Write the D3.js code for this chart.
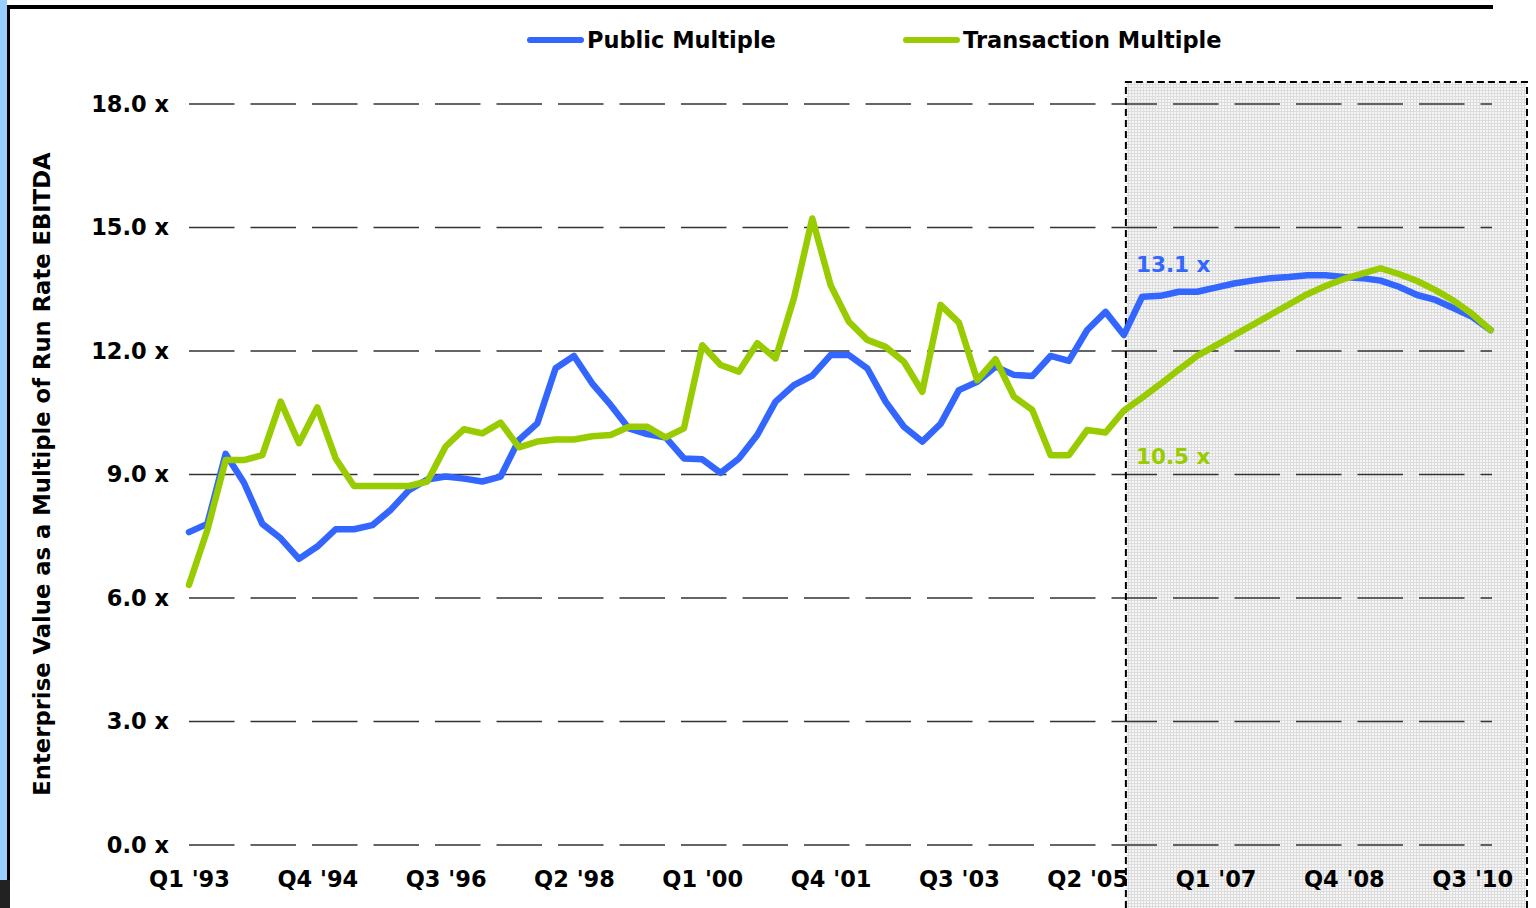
<!DOCTYPE html>
<html>
<head>
<meta charset="utf-8">
<script src="https://cdn.jsdelivr.net/npm/d3@7"></script>
<style>
    body {
        margin: 0;
        background: #fff;
    }

    svg text {
        font-family: Verdana, "DejaVu Sans", sans-serif;
        font-weight: bold;
        fill: #000;
    }

    .axis path {
        display: none;
    }

    .axis line {
        display: none;
    }

    .axis text {
        font-size: 22.5px;
    }
</style>
</head>
<body>
<script>
    // quarterly series, Q1 '93 .. Q4 '10
    var startYear = 1993;
    var quarterCount = 72;

    var publicMultiple = [
        7.6, 7.8, 9.5, 8.8, 7.8, 7.45, 6.95, 7.25, 7.67, 7.67, 7.77, 8.14,
        8.62, 8.88, 8.95, 8.9, 8.83, 8.95, 9.84, 10.24, 11.58, 11.88, 11.21, 10.69,
        10.12, 9.98, 9.9, 9.39, 9.37, 9.04, 9.39, 9.96, 10.77, 11.17, 11.4, 11.9,
        11.9, 11.58, 10.77, 10.16, 9.8, 10.23, 11.05, 11.25, 11.62, 11.42, 11.39, 11.88,
        11.76, 12.51, 12.95, 12.39, 13.32, 13.34, 13.44, 13.44, 13.54, 13.64, 13.71, 13.77,
        13.8, 13.84, 13.84, 13.8, 13.77, 13.71, 13.56, 13.36, 13.24, 13.04, 12.83, 12.51
    ];

    var transactionMultiple = [
        6.32, 7.65, 9.35, 9.35, 9.47, 10.77, 9.76, 10.63, 9.39, 8.72, 8.72, 8.72,
        8.72, 8.83, 9.68, 10.1, 10.0, 10.26, 9.66, 9.8, 9.85, 9.85, 9.93, 9.96,
        10.16, 10.16, 9.9, 10.12, 12.14, 11.66, 11.5, 12.19, 11.82, 13.28, 15.22, 13.6,
        12.71, 12.27, 12.1, 11.74, 11.01, 13.12, 12.69, 11.29, 11.8, 10.89, 10.57, 9.47,
        9.47, 10.08, 10.02, 10.55, 10.87, 11.2, 11.55, 11.88, 12.13, 12.38, 12.63, 12.88,
        13.13, 13.38, 13.58, 13.75, 13.88, 14.01, 13.87, 13.7, 13.48, 13.22, 12.9, 12.51
    ];

    var xTickLabels = ["Q1 '93", "Q4 '94", "Q3 '96", "Q2 '98", "Q1 '00", "Q4 '01",
        "Q3 '03", "Q2 '05", "Q1 '07", "Q4 '08", "Q3 '10"];
    var yTicks = [0, 3, 6, 9, 12, 15, 18];

    var seriesNames = ["Public Multiple", "Transaction Multiple"];
    var colors = ["#3366FF", "#99CC00"];

    var shadeStart = "Q4 '05";
    var endLabels = ["13.1 x", "10.5 x"];

    var quarters = [];
    for (var i = 0; i < quarterCount; i++) {
        var yr = startYear + Math.floor(i / 4);
        quarters.push("Q" + (i % 4 + 1) + " '" + String(yr).slice(2));
    }

    var W = 1536, H = 908;

    var svg = d3.select("body").append("svg")
        .attr("width", W)
        .attr("height", H);

    var x = d3.scalePoint()
        .domain(quarters)
        .range([189, 1490.5]);

    var y = d3.scaleLinear()
        .domain([0, 18])
        .range([845, 104]);

    // page frame bits from the slide
    svg.append("rect").attr("x", 0).attr("y", 0).attr("width", 7).attr("height", 880).attr("fill", "#99CCFF");
    svg.append("rect").attr("x", 7).attr("y", 5).attr("width", 3).attr("height", 875).attr("fill", "#000");
    svg.append("rect").attr("x", 7).attr("y", 5).attr("width", 1486).attr("height", 4).attr("fill", "#000");
    svg.append("rect").attr("x", 0).attr("y", 880).attr("width", 10).attr("height", 28).attr("fill", "#222");

    // projection shading
    var defs = svg.append("defs");
    var pat = defs.append("pattern")
        .attr("id", "grain")
        .attr("width", 3)
        .attr("height", 3)
        .attr("patternUnits", "userSpaceOnUse");
    pat.append("rect").attr("width", 3).attr("height", 3).attr("fill", "#f6f6f6");
    pat.append("rect").attr("width", 3).attr("height", 1).attr("fill", "#dcdcdc");
    pat.append("rect").attr("width", 1).attr("height", 3).attr("fill", "#dcdcdc");

    var shadeX = x(shadeStart) + 2;
    svg.append("rect")
        .attr("x", shadeX)
        .attr("y", 82)
        .attr("width", 1527 - shadeX)
        .attr("height", H - 82 + 5)
        .attr("fill", "url(#grain)");

    // dashed gridlines
    svg.selectAll(".grid")
        .data(yTicks)
        .enter().append("line")
        .attr("class", "grid")
        .attr("x1", x.range()[0])
        .attr("x2", 1492)
        .attr("y1", function(d) { return y(d); })
        .attr("y2", function(d) { return y(d); })
        .attr("stroke", "#333")
        .attr("stroke-width", 1.4)
        .attr("stroke-dasharray", "45.5,16");

    svg.append("path")
        .attr("d", "M" + shadeX + "," + H + "V82H1527V" + H)
        .attr("fill", "none")
        .attr("stroke", "#000")
        .attr("stroke-width", 2)
        .attr("stroke-dasharray", "7,4");

    // axes
    svg.append("g")
        .attr("class", "axis axis--y")
        .attr("transform", "translate(" + x.range()[0] + ",0)")
        .call(d3.axisLeft(y)
            .tickValues(yTicks)
            .tickSize(0)
            .tickPadding(20)
            .tickFormat(function(d) { return d.toFixed(1) + " x"; }));

    svg.append("g")
        .attr("class", "axis axis--x")
        .attr("transform", "translate(0," + 866 + ")")
        .call(d3.axisBottom(x)
            .tickValues(xTickLabels)
            .tickSize(0)
            .tickPadding(0));

    svg.selectAll(".axis--x .tick text").attr("dy", "0.95em");

    // y axis title
    svg.append("text")
        .attr("transform", "translate(50," + 474 + ") rotate(-90)")
        .style("text-anchor", "middle")
        .style("font-size", "22.7px")
        .text("Enterprise Value as a Multiple of Run Rate EBITDA");

    // lines
    var series = [publicMultiple, transactionMultiple];
    var line = d3.line()
        .x(function(d, i) { return x(quarters[i]); })
        .y(function(d) { return y(d); });

    svg.selectAll(".series")
        .data(series)
        .enter().append("path")
        .attr("class", "series")
        .attr("d", line)
        .attr("fill", "none")
        .attr("stroke", function(d, i) { return colors[i]; })
        .attr("stroke-width", 6.5)
        .attr("stroke-linejoin", "round")
        .attr("stroke-linecap", "round");

    // end value labels
    svg.selectAll(".end-label")
        .data(endLabels)
        .enter().append("text")
        .attr("class", "end-label")
        .attr("x", 1136)
        .attr("y", function(d, i) { return i === 0 ? 272 : 464; })
        .style("font-size", "21.5px")
        .style("fill", function(d, i) { return colors[i]; })
        .text(function(d) { return d; });

    // legend
    var legendX = [527, 903];
    var legend = svg.selectAll(".legend")
        .data(seriesNames)
        .enter().append("g")
        .attr("class", "legend")
        .attr("transform", function(d, i) { return "translate(" + legendX[i] + ",40)"; });

    legend.append("line")
        .attr("x1", 3)
        .attr("x2", 54)
        .attr("stroke", function(d, i) { return colors[i]; })
        .attr("stroke-width", 6)
        .attr("stroke-linecap", "round");

    legend.append("text")
        .attr("x", 60)
        .attr("y", 8)
        .style("font-size", "22.5px")
        .text(function(d) { return d; });
</script>
</body>
</html>
